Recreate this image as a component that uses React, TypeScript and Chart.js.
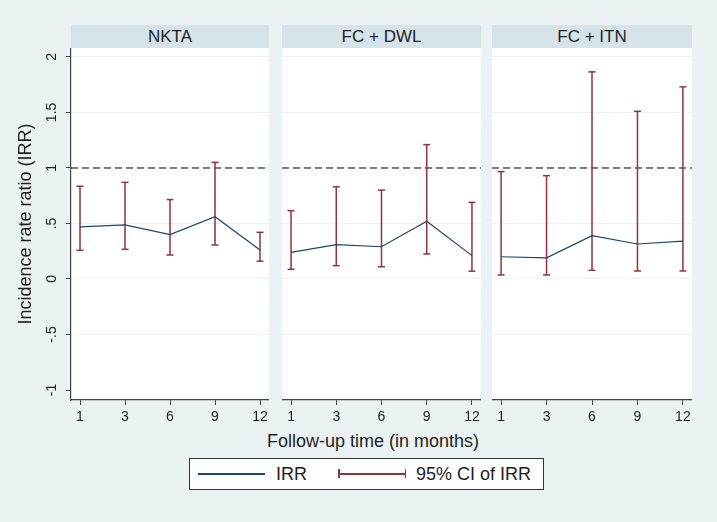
import React, { useEffect, useRef } from "react";
import { Chart, registerables } from "chart.js";

Chart.register(...registerables);

// ---------- data ----------
const months = ["1", "3", "6", "9", "12"];
const panelTitles = ["NKTA", "FC + DWL", "FC + ITN"];
const yTickValues = [-1, -0.5, 0, 0.5, 1, 1.5, 2];
const yTickLabels = ["-1", "-.5", "0", ".5", "1", "1.5", "2"];
const referenceValue = 1;

const irrNKTA = [0.47, 0.487, 0.4, 0.56, 0.26];
const loNKTA = [0.258, 0.267, 0.216, 0.306, 0.16];
const hiNKTA = [0.835, 0.87, 0.715, 1.05, 0.42];

const irrDWL = [0.24, 0.31, 0.29, 0.52, 0.21];
const loDWL = [0.087, 0.12, 0.11, 0.225, 0.07];
const hiDWL = [0.615, 0.83, 0.8, 1.21, 0.69];

const irrITN = [0.2, 0.19, 0.39, 0.315, 0.34];
const loITN = [0.036, 0.036, 0.078, 0.072, 0.072];
const hiITN = [0.967, 0.93, 1.865, 1.51, 1.73];

const panelIRR = [irrNKTA, irrDWL, irrITN];
const panelLo = [loNKTA, loDWL, loITN];
const panelHi = [hiNKTA, hiDWL, hiITN];

// ---------- style / layout ----------
const FONT = "'Liberation Sans', Arial, Helvetica, sans-serif";
const BG = "#eaf2f3";
const STRIP = "#d6e3e9";
const GRID = "#eaf2f3";
const AXIS = "#444444";
const TEXT = "#1e1e1e";
const NAVY = "#1a476f";
const MAROON = "#90353b";

const PLOT_TOP = 48;
const PLOT_H = 352;
const X_AXIS_H = 30;
const Y_AXIS_W = 71;
const PANEL_LEFTS = [71, 282, 492];
const PANEL_WIDTHS = [198, 199, 200];
const X_MIN = 0.8;
const X_MAX = 5.2;
const Y_MIN = -1.09;
const Y_MAX = 2.08;

const whiteArea = {
  id: "whiteArea",
  beforeDraw(chart: any) {
    const { ctx, chartArea } = chart;
    ctx.save();
    ctx.fillStyle = "#ffffff";
    ctx.fillRect(chartArea.left, chartArea.top, chartArea.right - chartArea.left, chartArea.bottom - chartArea.top);
    ctx.restore();
  },
};

function Panel({ idx }: { idx: number }) {
  const ref = useRef<HTMLCanvasElement>(null);
  const showY = idx === 0;
  const axisW = showY ? Y_AXIS_W : 0;
  const w = axisW + PANEL_WIDTHS[idx];
  const h = PLOT_H + X_AXIS_H;

  useEffect(() => {
    const irr = panelIRR[idx];
    const lo = panelLo[idx];
    const hi = panelHi[idx];
    const irrPts = months.map((_, i) => ({ x: i + 1, y: irr[i] }));
    const ciPts: any[] = [];
    months.forEach((_, i) => {
      ciPts.push({ x: i + 1, y: lo[i] }, { x: i + 1, y: hi[i] }, { x: i + 1, y: null });
    });
    const capPts = months.flatMap((_, i) => [
      { x: i + 1, y: lo[i] },
      { x: i + 1, y: hi[i] },
    ]);
    const refPts = [
      { x: X_MIN, y: referenceValue },
      { x: X_MAX, y: referenceValue },
    ];

    const chart = new Chart(ref.current as HTMLCanvasElement, {
      type: "line",
      data: {
        datasets: [
          {
            data: irrPts,
            borderColor: NAVY,
            borderWidth: 1.2,
            pointRadius: 0,
            tension: 0,
            order: 0,
          },
          {
            data: ciPts,
            borderColor: MAROON,
            borderWidth: 1.5,
            pointRadius: 0,
            spanGaps: false,
            order: 1,
          },
          {
            data: capPts,
            showLine: false,
            pointStyle: "line",
            pointRadius: 3.5,
            pointBorderWidth: 1.5,
            pointBorderColor: MAROON,
            pointBackgroundColor: MAROON,
            order: 1,
          },
          {
            data: refPts,
            borderColor: "#555555",
            borderWidth: 1.5,
            borderDash: [7, 4],
            pointRadius: 0,
            order: 3,
          },
        ] as any,
      },
      options: {
        responsive: false,
        animation: false,
        events: [],
        layout: { padding: 0, autoPadding: false },
        plugins: { legend: { display: false }, tooltip: { enabled: false } },
        scales: {
          x: {
            type: "linear",
            min: X_MIN,
            max: X_MAX,
            afterBuildTicks: (s: any) => {
              s.ticks = months.map((_, i) => ({ value: i + 1 }));
            },
            afterFit: (s: any) => {
              s.height = X_AXIS_H;
              s.paddingLeft = 0;
              s.paddingRight = 0;
            },
            ticks: {
              callback: (_v: any, i: number) => months[i],
              font: { family: FONT, size: 14 },
              color: TEXT,
              padding: 4,
              maxRotation: 0,
              minRotation: 0,
              autoSkip: false,
            },
            grid: { drawOnChartArea: false, drawTicks: true, tickLength: 5, color: AXIS, lineWidth: 1 },
            border: { display: true, color: AXIS, width: 1.2 },
          },
          y: {
            type: "linear",
            min: Y_MIN,
            max: Y_MAX,
            afterBuildTicks: (s: any) => {
              s.ticks = yTickValues.map((v) => ({ value: v }));
            },
            afterFit: (s: any) => {
              s.width = axisW;
              s.paddingTop = 0;
              s.paddingBottom = 0;
            },
            ticks: {
              display: showY,
              callback: (_v: any, i: number) => yTickLabels[i],
              minRotation: 90,
              maxRotation: 90,
              crossAlign: "center",
              padding: 4,
              font: { family: FONT, size: 14 },
              color: TEXT,
            },
            grid: {
              color: (c: any) => (c.tick && c.tick.value === -1 ? "rgba(0,0,0,0)" : GRID),
              lineWidth: 1,
              drawTicks: showY,
              tickLength: 5,
              tickColor: AXIS,
            },
            border: { display: showY, color: AXIS, width: 1.2 },
            title: {
              display: showY,
              text: "Incidence rate ratio (IRR)",
              font: { family: FONT, size: 18 },
              color: TEXT,
              padding: { top: 15, bottom: 0 },
            },
          },
        },
      } as any,
      plugins: [whiteArea],
    });
    return () => chart.destroy();
  }, []);

  return (
    <canvas
      ref={ref}
      width={w}
      height={h}
      style={{ position: "absolute", left: PANEL_LEFTS[idx] - axisW, top: PLOT_TOP, width: w, height: h }}
    />
  );
}

export default function App() {
  return (
    <div
      style={{
        position: "absolute",
        left: 0,
        top: 0,
        width: 717,
        height: 522,
        background: BG,
        fontFamily: FONT,
        color: TEXT,
        overflow: "hidden",
      }}
    >
      {panelTitles.map((t, i) => (
        <div
          key={t}
          style={{
            position: "absolute",
            left: PANEL_LEFTS[i],
            top: 25,
            width: PANEL_WIDTHS[i],
            height: 23,
            background: STRIP,
            fontSize: 17,
            lineHeight: "23px",
            textAlign: "center",
          }}
        >
          {t}
        </div>
      ))}
      {panelTitles.map((t, i) => (
        <Panel key={"p" + t} idx={i} />
      ))}
      <div
        style={{
          position: "absolute",
          left: 223,
          top: 431,
          width: 300,
          textAlign: "center",
          fontSize: 18,
          lineHeight: "20px",
        }}
      >
        Follow-up time (in months)
      </div>
      <div
        style={{
          position: "absolute",
          left: 189,
          top: 458,
          width: 355,
          height: 32,
          background: "#ffffff",
          border: "1px solid #333333",
          boxSizing: "border-box",
        }}
      >
        <div style={{ position: "absolute", left: 8, top: 14, width: 67, height: 1.5, background: NAVY }} />
        <div style={{ position: "absolute", left: 86, top: 0, lineHeight: "31px", fontSize: 18 }}>IRR</div>
        <div style={{ position: "absolute", left: 148, top: 14, width: 68, height: 1.5, background: MAROON }} />
        <div style={{ position: "absolute", left: 148, top: 10, width: 1.5, height: 9, background: MAROON }} />
        <div style={{ position: "absolute", left: 214.5, top: 10, width: 1.5, height: 9, background: MAROON }} />
        <div style={{ position: "absolute", left: 226, top: 0, lineHeight: "31px", fontSize: 18 }}>95% CI of IRR</div>
      </div>
    </div>
  );
}
